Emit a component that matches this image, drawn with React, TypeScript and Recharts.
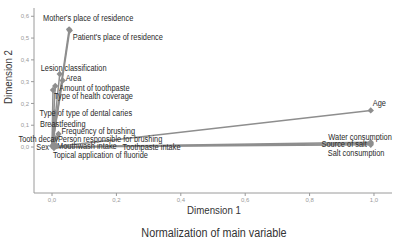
import React from 'react';
import { ScatterChart, Scatter, XAxis, YAxis, ReferenceLine } from 'recharts';

const variables = [
  "Mother's place of residence",
  "Patient's place of residence",
  'Lesion classification',
  'Area',
  'Amount of toothpaste',
  'Type of health coverage',
  'Type of type of dental caries',
  'Breastfeeding',
  'Frequency of brushing',
  'Person responsible for brushing',
  'Tooth decay',
  'Sex',
  'Mouthwash intake',
  'Toothpaste intake',
  'Topical application of fluoride',
  'Age',
  'Water consumption',
  'Source of salt',
  'Salt consumption',
];
const dimension1 = [0.053, 0.055, 0.024, 0.033, 0.01, 0.003, 0.008, 0.006, 0.02, 0.012, 0.004, 0.0, 0.008, 0.014, 0.006, 0.99, 0.99, 0.99, 0.99];
const dimension2 = [0.54, 0.535, 0.335, 0.305, 0.28, 0.262, 0.16, 0.1, 0.06, 0.04, 0.03, 0.005, 0.01, 0.004, -0.005, 0.168, 0.022, 0.016, 0.01];
const xTicks = [0, 0.2, 0.4, 0.6, 0.8, 1.0];
const yTicks = [0, 0.1, 0.2, 0.3, 0.4, 0.5, 0.6];

// label placement (pixels relative to the point)
const labelLayout: { dx: number; dy: number; anchor: 'start' | 'end' | 'middle' }[] = [
  { dx: -26, dy: -8, anchor: 'start' },
  { dx: 3, dy: 10, anchor: 'start' },
  { dx: -19, dy: -3, anchor: 'start' },
  { dx: 3, dy: 0, anchor: 'start' },
  { dx: 4, dy: 5, anchor: 'start' },
  { dx: 1, dy: 9, anchor: 'start' },
  { dx: -15, dy: 4, anchor: 'start' },
  { dx: -14, dy: 2, anchor: 'start' },
  { dx: 3, dy: 0, anchor: 'start' },
  { dx: 2, dy: 4, anchor: 'start' },
  { dx: 5, dy: 1.5, anchor: 'end' },
  { dx: -3, dy: 4, anchor: 'end' },
  { dx: 2.5, dy: 4, anchor: 'start' },
  { dx: 66, dy: 4, anchor: 'start' },
  { dx: -1, dy: 10, anchor: 'start' },
  { dx: 2, dy: -4.5, anchor: 'start' },
  { dx: 21, dy: -2, anchor: 'end' },
  { dx: -4, dy: 3.5, anchor: 'end' },
  { dx: -43, dy: 11, anchor: 'start' },
];

const data = variables.map((name, i) => ({ name, x: dimension1[i], y: dimension2[i], i }));

const FONT = '"Liberation Sans", Arial, sans-serif';
const GREY = '#8e8e8e';
const SQUEEZE = 0.78;

const fmt = (v: number) => v.toFixed(1).replace('.', ',');

const PointShape = (props: any) => {
  const { cx, cy, payload } = props;
  const l = labelLayout[payload.i];
  const r = 3.2;
  return (
    <g>
      <path d={`M${cx},${cy - r}L${cx + r},${cy}L${cx},${cy + r}L${cx - r},${cy}Z`} fill={GREY} />
      <text
        transform={`translate(${cx + l.dx},${cy + l.dy}) scale(${SQUEEZE},1)`}
        x={0}
        y={0}
        textAnchor={l.anchor}
        fontSize={9.5}
        fontFamily={FONT}
        fill="#2a2a2a"
      >
        {payload.name}
      </text>
    </g>
  );
};

const titleStyle = (left: number, top: number, size: number, sx: number, rotate = false): React.CSSProperties => ({
  position: 'absolute',
  left,
  top,
  transform: `translate(-50%,-50%) ${rotate ? 'rotate(-90deg) ' : ''}scale(${sx},1)`,
  fontFamily: FONT,
  fontSize: size,
  color: '#333',
  whiteSpace: 'nowrap',
  lineHeight: 1,
});

export default function App() {
  return (
    <div style={{ position: 'absolute', left: 0, top: 0, width: 414, height: 244, background: '#fff' }}>
      <ScatterChart width={414} height={244} margin={{ top: 8, right: 22, left: 0, bottom: 31 }}>
        <XAxis
          type="number"
          dataKey="x"
          domain={[-0.056, 1.056]}
          ticks={xTicks}
          tickFormatter={fmt}
          height={20}
          tickSize={3}
          stroke="#9a9a9a"
          tick={{ fontSize: 6, fill: '#9a9a9a', fontFamily: FONT }}
        />
        <YAxis
          type="number"
          dataKey="y"
          domain={[-0.211, 0.638]}
          ticks={yTicks}
          tickFormatter={fmt}
          width={34}
          tickSize={3}
          stroke="#9a9a9a"
          tick={{ fontSize: 6, fill: '#9a9a9a', fontFamily: FONT }}
        />
        {data.map((d) => (
          <ReferenceLine
            key={d.name}
            segment={[{ x: 0, y: 0 }, { x: d.x, y: d.y }]}
            stroke={GREY}
            strokeWidth={1.5}
            ifOverflow="visible"
          />
        ))}
        <Scatter data={data} shape={PointShape} isAnimationActive={false} />
      </ScatterChart>
      <div style={titleStyle(8, 77, 11, 0.88, true)}>Dimension 2</div>
      <div style={titleStyle(214, 210, 11, 0.88)}>Dimension 1</div>
      <div style={titleStyle(214, 233, 12, 0.9)}>Normalization of main variable</div>
    </div>
  );
}
